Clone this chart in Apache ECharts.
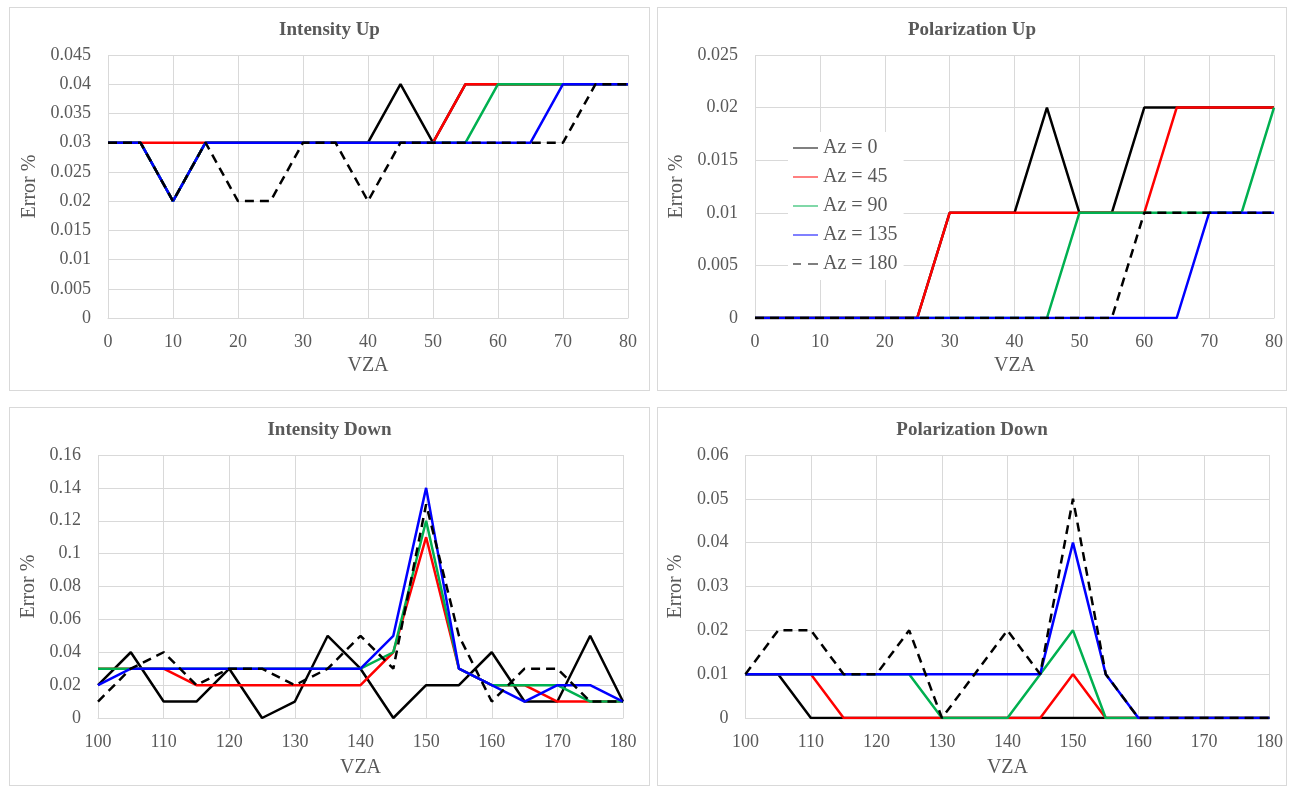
<!DOCTYPE html>
<html>
<head>
<meta charset="utf-8">
<script src="https://cdn.jsdelivr.net/npm/echarts@6/dist/echarts.min.js"></script>
<style>
  body { margin: 0; background: #fff; }
  .panel {
    position: absolute;
    box-sizing: border-box;
    border: 1px solid #d9d9d9;
    background: #fff;
  }
  .panel div.chart { width: 100%; height: 100%; }
</style>
</head>
<body>
<div class="panel" style="left:9px; top:7px; width:641px; height:384px;"><div class="chart" id="intUp"></div></div>
<div class="panel" style="left:657px; top:7px; width:630px; height:384px;"><div class="chart" id="polUp"></div></div>
<div class="panel" style="left:9px; top:407px; width:641px; height:379px;"><div class="chart" id="intDown"></div></div>
<div class="panel" style="left:657px; top:407px; width:630px; height:379px;"><div class="chart" id="polDown"></div></div>
<script>
// VZA values
var vzaUp = [0, 5, 10, 15, 20, 25, 30, 35, 40, 45, 50, 55, 60, 65, 70, 75, 80];
var vzaDown = [100, 105, 110, 115, 120, 125, 130, 135, 140, 145, 150, 155, 160, 165, 170, 175, 180];

var azNames = ["Az = 0", "Az = 45", "Az = 90", "Az = 135", "Az = 180"];

// Intensity Up
var intUp0 = [0.03, 0.03, 0.02, 0.03, 0.03, 0.03, 0.03, 0.03, 0.03, 0.04, 0.03, 0.04, 0.04, 0.04, 0.04, 0.04, 0.04];
var intUp45 = [0.03, 0.03, 0.03, 0.03, 0.03, 0.03, 0.03, 0.03, 0.03, 0.03, 0.03, 0.04, 0.04, 0.04, 0.04, 0.04, 0.04];
var intUp90 = [0.03, 0.03, 0.02, 0.03, 0.03, 0.03, 0.03, 0.03, 0.03, 0.03, 0.03, 0.03, 0.04, 0.04, 0.04, 0.04, 0.04];
var intUp135 = [0.03, 0.03, 0.02, 0.03, 0.03, 0.03, 0.03, 0.03, 0.03, 0.03, 0.03, 0.03, 0.03, 0.03, 0.04, 0.04, 0.04];
var intUp180 = [0.03, 0.03, 0.02, 0.03, 0.02, 0.02, 0.03, 0.03, 0.02, 0.03, 0.03, 0.03, 0.03, 0.03, 0.03, 0.04, 0.04];

// Polarization Up
var polUp0 = [0, 0, 0, 0, 0, 0, 0.01, 0.01, 0.01, 0.02, 0.01, 0.01, 0.02, 0.02, 0.02, 0.02, 0.02];
var polUp45 = [0, 0, 0, 0, 0, 0, 0.01, 0.01, 0.01, 0.01, 0.01, 0.01, 0.01, 0.02, 0.02, 0.02, 0.02];
var polUp90 = [0, 0, 0, 0, 0, 0, 0, 0, 0, 0, 0.01, 0.01, 0.01, 0.01, 0.01, 0.01, 0.02];
var polUp135 = [0, 0, 0, 0, 0, 0, 0, 0, 0, 0, 0, 0, 0, 0, 0.01, 0.01, 0.01];
var polUp180 = [0, 0, 0, 0, 0, 0, 0, 0, 0, 0, 0, 0, 0.01, 0.01, 0.01, 0.01, 0.01];

// Intensity Down
var intDown0 = [0.02, 0.04, 0.01, 0.01, 0.03, 0, 0.01, 0.05, 0.03, 0, 0.02, 0.02, 0.04, 0.01, 0.01, 0.05, 0.01];
var intDown45 = [0.03, 0.03, 0.03, 0.02, 0.02, 0.02, 0.02, 0.02, 0.02, 0.04, 0.11, 0.03, 0.02, 0.02, 0.01, 0.01, 0.01];
var intDown90 = [0.03, 0.03, 0.03, 0.03, 0.03, 0.03, 0.03, 0.03, 0.03, 0.04, 0.12, 0.03, 0.02, 0.02, 0.02, 0.01, 0.01];
var intDown135 = [0.02, 0.03, 0.03, 0.03, 0.03, 0.03, 0.03, 0.03, 0.03, 0.05, 0.14, 0.03, 0.02, 0.01, 0.02, 0.02, 0.01];
var intDown180 = [0.01, 0.03, 0.04, 0.02, 0.03, 0.03, 0.02, 0.03, 0.05, 0.03, 0.13, 0.05, 0.01, 0.03, 0.03, 0.01, 0.01];

// Polarization Down
var polDown0 = [0.01, 0.01, 0, 0, 0, 0, 0, 0, 0, 0, 0, 0, 0, 0, 0, 0, 0];
var polDown45 = [0.01, 0.01, 0.01, 0, 0, 0, 0, 0, 0, 0, 0.01, 0, 0, 0, 0, 0, 0];
var polDown90 = [0.01, 0.01, 0.01, 0.01, 0.01, 0.01, 0, 0, 0, 0.01, 0.02, 0, 0, 0, 0, 0, 0];
var polDown135 = [0.01, 0.01, 0.01, 0.01, 0.01, 0.01, 0.01, 0.01, 0.01, 0.01, 0.04, 0.01, 0, 0, 0, 0, 0];
var polDown180 = [0.01, 0.02, 0.02, 0.01, 0.01, 0.02, 0, 0.01, 0.02, 0.01, 0.05, 0.01, 0, 0, 0, 0, 0];

var colors = ["#000000", "#ff0000", "#00b050", "#0000ff", "#000000"];
var FONT = "'Liberation Serif', 'Times New Roman', serif";
var GRAY = "#595959";
var GRID = "#d9d9d9";

// legend swatches: a solid bar, or two dashes for the dashed series
var solidIcon = "path://M0,0h25v1h-25z";
var dashIcon = "path://M0,0h8v1h-8z M15,0h10v1h-10z";

function pairs(xs, ys) {
  return xs.map(function (x, i) { return [x, ys[i]]; });
}

function makeSeries(xs, lists) {
  return lists.map(function (ys, i) {
    return {
      name: azNames[i],
      type: "line",
      symbol: "none",
      animation: false,
      data: pairs(xs, ys),
      lineStyle: {
        color: colors[i],
        width: 2.5,
        type: i === 4 ? [9, 6] : "solid"
      },
      itemStyle: { color: colors[i] }
    };
  });
}

function makeOption(cfg) {
  return {
    animation: false,
    title: {
      text: cfg.title,
      left: "center",
      top: 8,
      textStyle: { fontFamily: FONT, fontSize: 19, fontWeight: "bold", color: GRAY }
    },
    grid: cfg.grid,
    legend: cfg.legend || { show: false },
    xAxis: {
      type: "value",
      min: cfg.xMin,
      max: cfg.xMax,
      interval: 10,
      name: "VZA",
      nameLocation: "middle",
      nameGap: cfg.xNameGap,
      nameTextStyle: { fontFamily: FONT, fontSize: 20, color: GRAY },
      axisLine: { show: true, lineStyle: { color: GRID, width: 1 } },
      axisTick: { show: false },
      axisLabel: { fontFamily: FONT, fontSize: 18, color: GRAY, margin: 15 },
      splitLine: { show: true, lineStyle: { color: GRID, width: 1 } }
    },
    yAxis: {
      type: "value",
      min: 0,
      max: cfg.yMax,
      interval: cfg.yStep,
      name: "Error %",
      nameLocation: "middle",
      nameGap: cfg.yNameGap,
      nameTextStyle: { fontFamily: FONT, fontSize: 20, color: GRAY },
      axisLine: { show: false },
      axisTick: { show: false },
      axisLabel: { fontFamily: FONT, fontSize: 18, color: GRAY, margin: 17 },
      splitLine: { show: true, lineStyle: { color: GRID, width: 1 } }
    },
    series: makeSeries(cfg.xs, cfg.lists)
  };
}

var intUpChart = echarts.init(document.getElementById("intUp"));
var polUpChart = echarts.init(document.getElementById("polUp"));
var intDownChart = echarts.init(document.getElementById("intDown"));
var polDownChart = echarts.init(document.getElementById("polDown"));

intUpChart.setOption(makeOption({
  title: "Intensity Up",
  grid: { left: 98, top: 47, width: 520, height: 263 },
  xMin: 0, xMax: 80, yMax: 0.045, yStep: 0.005,
  xNameGap: 38, yNameGap: 63,
  xs: vzaUp,
  lists: [intUp0, intUp45, intUp90, intUp135, intUp180]
}));

polUpChart.setOption(makeOption({
  title: "Polarization Up",
  grid: { left: 97, top: 47, width: 521, height: 263 },
  xMin: 0, xMax: 80, yMax: 0.025, yStep: 0.005,
  xNameGap: 38, yNameGap: 63,
  xs: vzaUp,
  lists: [polUp0, polUp45, polUp90, polUp135, polUp180],
  legend: {
    show: true,
    data: azNames.map(function (n, i) {
      return { name: n, icon: i === 4 ? dashIcon : solidIcon };
    }),
    orient: "vertical",
    left: 130,
    top: 124,
    padding: [6, 6, 6, 5],
    backgroundColor: "#ffffff",
    itemWidth: 25,
    itemHeight: 3,
    itemGap: 9,
    textStyle: { fontFamily: FONT, fontSize: 20, color: GRAY }
  }
}));

intDownChart.setOption(makeOption({
  title: "Intensity Down",
  grid: { left: 88, top: 47, width: 525, height: 263 },
  xMin: 100, xMax: 180, yMax: 0.16, yStep: 0.02,
  xNameGap: 40, yNameGap: 54,
  xs: vzaDown,
  lists: [intDown0, intDown45, intDown90, intDown135, intDown180]
}));

polDownChart.setOption(makeOption({
  title: "Polarization Down",
  grid: { left: 86, top: 47, width: 528, height: 263 },
  xMin: 100, xMax: 180, yMax: 0.06, yStep: 0.01,
  xNameGap: 40, yNameGap: 52,
  xs: vzaDown,
  lists: [polDown0, polDown45, polDown90, polDown135, polDown180]
}));
</script>
</body>
</html>
